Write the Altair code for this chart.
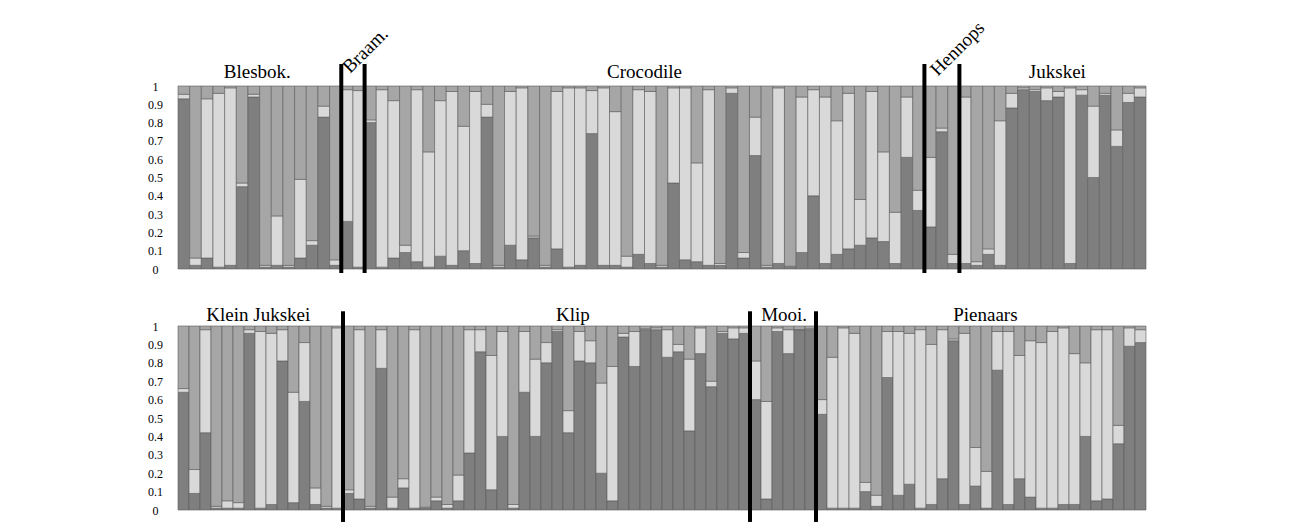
import altair as alt
import pandas as pd

# ---- data ----
# cluster proportions: upper edge of the dark segment, upper edge of the light segment (rest is medium grey)
top_dark = [0.93, 0.02, 0.06, 0.01, 0.02, 0.45, 0.94, 0.01, 0.02, 0.01, 0.06, 0.13, 0.83, 0.02,
            0.26, 0.01,
            0.80, 0.01, 0.06, 0.09, 0.04, 0.01, 0.07, 0.02, 0.10, 0.03, 0.83, 0.01, 0.13, 0.05, 0.17, 0.01,
            0.11, 0.01, 0.02, 0.74, 0.02, 0.02, 0.01, 0.08, 0.03, 0.01, 0.47, 0.05, 0.04, 0.02, 0.02, 0.96,
            0.06, 0.62, 0.01, 0.03, 0.01, 0.09, 0.40, 0.03, 0.08, 0.11, 0.13, 0.17, 0.15, 0.03, 0.61, 0.32,
            0.23, 0.75, 0.03,
            0.03, 0.02, 0.08, 0.02, 0.88, 0.98, 0.97, 0.92, 0.94, 0.03, 0.95, 0.50, 0.95, 0.67, 0.91, 0.94]
top_light = [0.955, 0.06, 0.93, 0.96, 0.99, 0.47, 0.955, 0.02, 0.29, 0.02, 0.49, 0.155, 0.89, 0.05,
             0.98, 0.975,
             0.815, 0.98, 0.92, 0.13, 0.98, 0.64, 0.92, 0.97, 0.78, 0.97, 0.90, 0.02, 0.97, 0.99, 0.18, 0.02,
             0.97, 0.99, 0.99, 0.975, 0.99, 0.86, 0.07, 0.98, 0.97, 0.02, 0.99, 0.99, 0.58, 0.98, 0.03, 0.99,
             0.09, 0.83, 0.02, 0.99, 0.015, 0.94, 0.98, 0.94, 0.81, 0.96, 0.38, 0.97, 0.64, 0.31, 0.94, 0.43,
             0.61, 0.77, 0.08,
             0.94, 0.04, 0.11, 0.81, 0.96, 0.99, 0.98, 0.99, 0.97, 0.99, 0.98, 0.89, 0.96, 0.76, 0.96, 0.99]
top_groups = ["Blesbok.", "Braam.", "Crocodile", "Hennops", "Jukskei"]
top_sizes = [14, 2, 48, 3, 16]

bottom_dark = [0.64, 0.09, 0.42, 0.01, 0.01, 0.01, 0.96, 0.01, 0.03, 0.81, 0.04, 0.59, 0.03, 0.01, 0.01,
               0.09, 0.06, 0.01, 0.77, 0.01, 0.12, 0.01, 0.01, 0.05, 0.01, 0.05, 0.31, 0.86, 0.11, 0.40,
               0.01, 0.64, 0.40, 0.80, 0.97, 0.42, 0.81, 0.80, 0.20, 0.05, 0.94, 0.78, 0.98, 0.98, 0.83,
               0.86, 0.43, 0.85, 0.67, 0.96, 0.93, 0.96,
               0.60, 0.06, 0.97, 0.85, 0.98, 0.98,
               0.52, 0.01, 0.01, 0.01, 0.10, 0.02, 0.72, 0.08, 0.14, 0.01, 0.03, 0.17, 0.92, 0.03, 0.13,
               0.01, 0.76, 0.03, 0.17, 0.07, 0.01, 0.01, 0.03, 0.03, 0.40, 0.05, 0.06, 0.36, 0.89, 0.91]
bottom_light = [0.66, 0.22, 0.98, 0.02, 0.05, 0.04, 0.98, 0.97, 0.96, 0.98, 0.64, 0.91, 0.12, 0.02, 0.99,
                0.11, 0.98, 0.02, 0.98, 0.07, 0.17, 0.98, 0.015, 0.07, 0.03, 0.19, 0.98, 0.98, 0.84, 0.97,
                0.03, 0.97, 0.82, 0.91, 0.98, 0.54, 0.97, 0.92, 0.69, 0.78, 0.96, 0.97, 0.985, 0.99, 0.98,
                0.90, 0.82, 0.99, 0.70, 0.97, 0.99, 0.99,
                0.81, 0.59, 0.99, 0.98, 0.98, 0.985,
                0.60, 0.83, 0.99, 0.96, 0.15, 0.08, 0.97, 0.97, 0.96, 0.98, 0.90, 0.98, 0.93, 0.96, 0.34,
                0.21, 0.97, 0.97, 0.84, 0.92, 0.91, 0.97, 0.99, 0.85, 0.80, 0.98, 0.98, 0.46, 0.99, 0.98]
bottom_groups = ["Klein Jukskei", "Klip", "Mooi.", "Pienaars"]
bottom_sizes = [15, 37, 6, 30]

y_ticks = [0, 0.1, 0.2, 0.3, 0.4, 0.5, 0.6, 0.7, 0.8, 0.9, 1]
clusters = ["dark", "light", "medium"]
cluster_colors = ["#7f7f7f", "#d9d9d9", "#a6a6a6"]
FONT = "Liberation Serif"

Y_AXIS = alt.Axis(
    values=y_ticks, format="~g", labelOverlap=False,
    domain=False, ticks=False, tickSize=0, grid=False, title=None,
    labelFont=FONT, labelFontSize=12, labelColor="black",
    labelAlign="center", labelPadding=23)


def bar_table(dark, light):
    rows = []
    for i, (d, l) in enumerate(zip(dark, light)):
        rows.append({"x0": i, "x1": i + 1, "y0": 0.0, "y1": d, "cluster": "dark"})
        rows.append({"x0": i, "x1": i + 1, "y0": d, "y1": l, "cluster": "light"})
        rows.append({"x0": i, "x1": i + 1, "y0": l, "y1": 1.0, "cluster": "medium"})
    return pd.DataFrame(rows)


def panel(dark, light, groups, sizes, rotated, label_shift, rule_top, rule_bottom, label_y, height):
    n = len(dark)
    xs = alt.Scale(domain=[0, n], nice=False, zero=False)
    ys = alt.Scale(domain=[0, 1], nice=False)
    bars = alt.Chart(bar_table(dark, light)).mark_rect(
        stroke="#5c5c5c", strokeWidth=0.6
    ).encode(
        x=alt.X("x0:Q", scale=xs, axis=None),
        x2="x1:Q",
        y=alt.Y("y0:Q", scale=ys, axis=Y_AXIS),
        y2="y1:Q",
        color=alt.Color("cluster:N", scale=alt.Scale(domain=clusters, range=cluster_colors), legend=None),
    )
    # group boundaries and labels
    bounds = []
    labels_h, labels_r = [], []
    start = 0
    for k, (g, s) in enumerate(zip(groups, sizes)):
        if k > 0:
            bounds.append({"x": start, "yt": rule_top, "yb": rule_bottom})
        if g in rotated:
            dx, yy = rotated[g]
            labels_r.append({"x": start + dx, "y": yy, "label": g})
        else:
            labels_h.append({"x": start + s / 2 + label_shift.get(g, 0), "y": label_y, "label": g})
        start += s
    rules = alt.Chart(pd.DataFrame(bounds)).mark_rule(color="black", strokeWidth=4, clip=False).encode(
        x=alt.X("x:Q", scale=xs, axis=None), y=alt.Y("yt:Q", scale=ys, axis=Y_AXIS), y2="yb:Q")
    layers = [bars, rules]
    if labels_h:
        layers.append(alt.Chart(pd.DataFrame(labels_h)).mark_text(
            font=FONT, fontSize=19, color="black", baseline="alphabetic", align="center", clip=False
        ).encode(x=alt.X("x:Q", scale=xs, axis=None), y=alt.Y("y:Q", scale=ys, axis=Y_AXIS), text="label:N"))
    if labels_r:
        layers.append(alt.Chart(pd.DataFrame(labels_r)).mark_text(
            font=FONT, fontSize=19, color="black", baseline="alphabetic", align="left", angle=315, clip=False
        ).encode(x=alt.X("x:Q", scale=xs, axis=None), y=alt.Y("y:Q", scale=ys, axis=Y_AXIS), text="label:N"))
    return alt.layer(*layers).properties(width=968, height=height)


top = panel(top_dark, top_light, top_groups, top_sizes,
            rotated={"Braam.": (0.75, 1.065), "Hennops": (1.15, 1.05)},
            label_shift={"Blesbok.": -0.2, "Jukskei": 0.4}, rule_top=1.12, rule_bottom=-0.022,
            label_y=1.044, height=183)
bottom = panel(bottom_dark, bottom_light, bottom_groups, bottom_sizes, rotated={},
               label_shift={"Klein Jukskei": -0.2, "Klip": 2.4, "Mooi.": 0.1, "Pienaars": 0.4},
               rule_top=1.08, rule_bottom=-0.065, label_y=1.027, height=184)

chart = alt.vconcat(top, bottom, spacing=30).properties(
    padding={"left": 139, "top": 10, "right": 10, "bottom": 5},
    background="white",
).configure_view(strokeWidth=0)

chart.save("out.html", embed_options={"renderer": "svg", "actions": False})
